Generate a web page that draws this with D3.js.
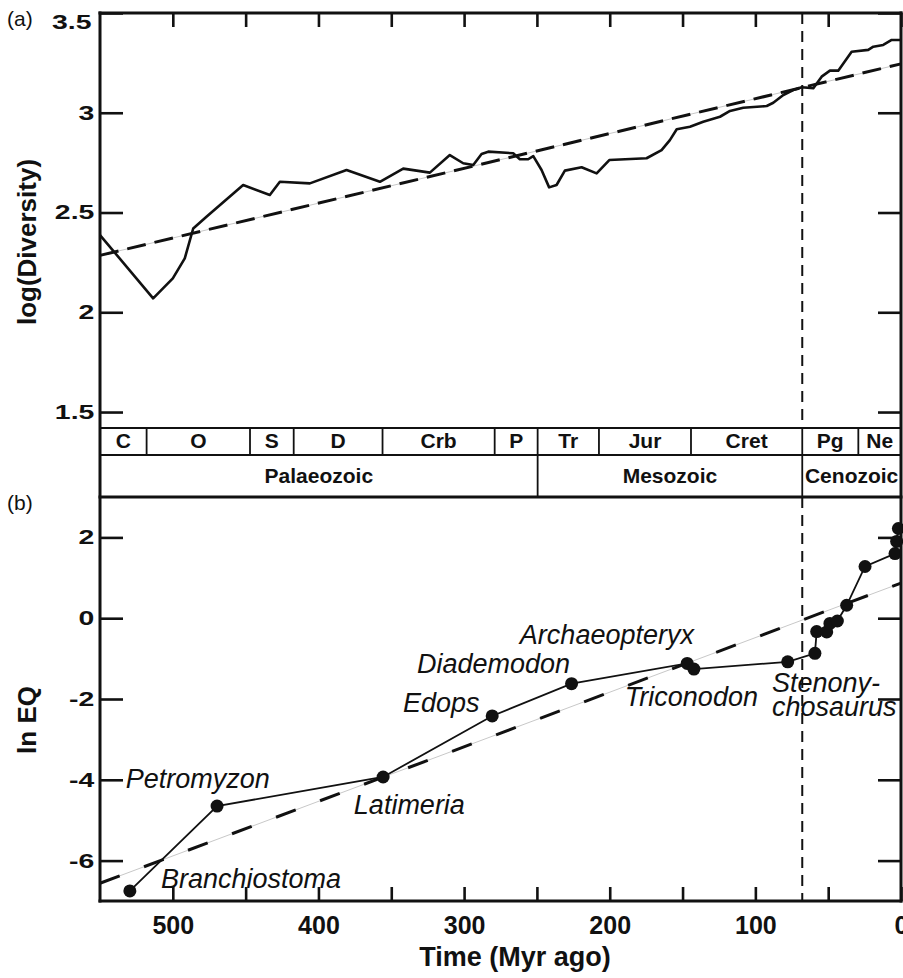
<!DOCTYPE html>
<html>
<head>
<meta charset="utf-8">
<script src="https://cdn.jsdelivr.net/npm/d3@7"></script>
<style>
    body { margin: 0; background: #fff; }
    svg { display: block; font-family: "Liberation Sans", Arial, sans-serif; }
</style>
</head>
<body>
<div id="chart"></div>
<script>
// (a) diversity curve
const divTime = [550, 513.5, 500, 491.8, 486, 476.9, 451.7, 433.4, 426.5, 405.9, 380.7, 357.8, 341.8, 323.5,
    309.8, 300.6, 293.7, 288, 283.4, 266.3, 261.7, 256, 252.5, 246.8, 241.6, 236.5, 230.8, 219.3, 209, 200.3,
    174.7, 164.4, 158.7, 154, 144.9, 135.8, 124.3, 117.4, 108.3, 92.2, 87.7, 80.8, 74, 68.2, 60.2, 54.5,
    48.8, 43.1, 33.9, 22.5, 19, 12.2, 6.4, 0];
const logDiv = [2.387, 2.07, 2.17, 2.27, 2.42, 2.479, 2.638, 2.588, 2.654, 2.646, 2.713, 2.654, 2.72, 2.70,
    2.788, 2.747, 2.738, 2.793, 2.805, 2.797, 2.767, 2.767, 2.783, 2.713, 2.626, 2.638, 2.71, 2.727, 2.696, 2.763,
    2.772, 2.813, 2.863, 2.917, 2.93, 2.955, 2.98, 3.009, 3.025, 3.034, 3.05, 3.089, 3.114, 3.128, 3.123, 3.181,
    3.211, 3.211, 3.306, 3.315, 3.331, 3.34, 3.365, 3.365];
const divFitTime = [550, 0];
const divFitValue = [2.285, 3.245];

// (b) encephalization quotient
const eqTime = [529.5, 469.6, 355.6, 280.7, 226.2, 146.8, 142.2, 77.8, 59.1, 57.9, 51, 48.8, 43.7, 37.3, 24.7, 4.1, 3, 1.8];
const lnEQ = [-6.75, -4.65, -3.93, -2.42, -1.62, -1.12, -1.26, -1.08, -0.87, -0.33, -0.34, -0.13, -0.07, 0.32, 1.28, 1.60, 1.90, 2.22];
const eqFitTime = [550, 0];
const eqFitValue = [-6.56, 0.87];

// taxon names and where their labels sit (time, ln EQ)
const taxa = ["Petromyzon", "Latimeria", "Branchiostoma", "Edops", "Diademodon", "Archaeopteryx", "Triconodon", "Stenony-|chosaurus"];
const taxaTime = [532.3, 375.7, 508.2, 342, 332.4, 261.7, 189.6, 88.6];
const taxaEQ = [-4.21, -4.85, -6.68, -2.33, -1.36, -0.64, -2.18, -1.83];

// geological time scale
const periods = ["C", "O", "S", "D", "Crb", "P", "Tr", "Jur", "Cret", "Pg", "Ne"];
const periodStart = [550, 518, 447, 417, 356, 279, 249.5, 207.4, 144.2, 67.8, 29.3];
const periodEnd = [518, 447, 417, 356, 279, 249.5, 207.4, 144.2, 67.8, 29.3, 0];
const eras = ["Palaeozoic", "Mesozoic", "Cenozoic"];
const eraStart = [550, 249.5, 67.8];
const eraEnd = [249.5, 67.8, 0];
const kpg = 67.8;

const xTicks = [500, 450, 400, 350, 300, 250, 200, 150, 100, 50, 0];
const divTicks = [1.5, 2, 2.5, 3, 3.5];
const eqTicks = [-6, -4, -2, 0, 2];

const W = 903, H = 978;
const left = 100, right = 901;
const aTop = 13, aBottom = 428, perBottom = 455, bTop = 497, bBottom = 901;

let svg = d3.select("#chart").append("svg")
    .attr("width", W)
    .attr("height", H);

let x = d3.scaleLinear().domain([550, 0]).range([left, right]);
let yA = d3.scaleLinear().domain([1.42, 3.5]).range([aBottom, aTop]);
let yB = d3.scaleLinear().domain([-7, 3]).range([bBottom, bTop]);

const ink = "#111";

// fit lines: thin grey line under a heavy dashed one
function fitLine(ts, vs, y, dash) {
    let pts = ts.map((t, i) => [x(t), y(vs[i])]);
    let line = d3.line();
    svg.append("path").attr("d", line(pts))
        .attr("fill", "none").attr("stroke", "#c8c8c8").attr("stroke-width", 1);
    svg.append("path").attr("d", line(pts))
        .attr("fill", "none").attr("stroke", ink).attr("stroke-width", 3)
        .attr("stroke-dasharray", dash);
}
fitLine(divFitTime, divFitValue, yA, "19,9");
fitLine(eqFitTime, eqFitValue, yB, "21,26");

// K/Pg boundary
svg.append("line")
    .attr("x1", x(kpg)).attr("x2", x(kpg))
    .attr("y1", aTop).attr("y2", aBottom)
    .attr("stroke", ink).attr("stroke-width", 2).attr("stroke-dasharray", "11,7");
svg.append("line")
    .attr("x1", x(kpg)).attr("x2", x(kpg))
    .attr("y1", bTop).attr("y2", bBottom)
    .attr("stroke", ink).attr("stroke-width", 2).attr("stroke-dasharray", "11,7");

// diversity curve
let divLine = d3.line()
    .x((d, i) => x(divTime[i]))
    .y(d => yA(d));
svg.append("path")
    .attr("d", divLine(logDiv))
    .attr("fill", "none")
    .attr("stroke", ink)
    .attr("stroke-width", 2.6)
    .attr("stroke-linejoin", "round");

// EQ series
let eqLine = d3.line()
    .x((d, i) => x(eqTime[i]))
    .y(d => yB(d));
svg.append("path")
    .attr("d", eqLine(lnEQ))
    .attr("fill", "none")
    .attr("stroke", ink)
    .attr("stroke-width", 1.8);
svg.selectAll(".eq-dot")
    .data(lnEQ)
    .enter().append("circle")
    .attr("class", "eq-dot")
    .attr("cx", (d, i) => x(eqTime[i]))
    .attr("cy", d => yB(d))
    .attr("r", 6.5)
    .attr("fill", ink);

// taxon labels
taxa.forEach((name, i) => {
    let t = svg.append("text")
        .attr("x", x(taxaTime[i]))
        .attr("y", yB(taxaEQ[i]))
        .attr("font-size", 27)
        .attr("font-style", "italic")
        .attr("fill", ink);
    name.split("|").forEach((part, j) => {
        t.append("tspan")
            .attr("x", x(taxaTime[i]))
            .attr("dy", j === 0 ? 0 : 24)
            .text(part);
    });
});

// time scale bar
let bar = svg.append("g").attr("font-size", 21).attr("font-weight", "bold").attr("fill", ink);
periods.forEach((p, i) => {
    bar.append("line")
        .attr("x1", x(periodEnd[i])).attr("x2", x(periodEnd[i]))
        .attr("y1", aBottom).attr("y2", perBottom)
        .attr("stroke", ink).attr("stroke-width", 1.8);
    bar.append("text")
        .attr("x", (x(periodStart[i]) + x(periodEnd[i])) / 2)
        .attr("y", perBottom - 7)
        .attr("text-anchor", "middle")
        .text(p);
});
eras.forEach((e, i) => {
    bar.append("line")
        .attr("x1", x(eraEnd[i])).attr("x2", x(eraEnd[i]))
        .attr("y1", perBottom).attr("y2", bTop)
        .attr("stroke", ink).attr("stroke-width", 1.8);
    bar.append("text")
        .attr("x", (x(eraStart[i]) + x(eraEnd[i])) / 2)
        .attr("y", bTop - 14)
        .attr("text-anchor", "middle")
        .text(e);
});
[aBottom, perBottom].forEach(yy => {
    svg.append("line")
        .attr("x1", left).attr("x2", right)
        .attr("y1", yy).attr("y2", yy)
        .attr("stroke", ink).attr("stroke-width", 2);
});

// axes
function styleAxis(g) {
    g.select(".domain").remove();
    g.selectAll(".tick line").attr("stroke", ink).attr("stroke-width", 2.6);
    g.selectAll(".tick text").attr("fill", ink);
    g.attr("font-family", null).attr("font-size", null);
}

svg.append("g")
    .attr("transform", `translate(0,${aTop})`)
    .call(d3.axisTop(x).tickValues(xTicks).tickSize(-14).tickFormat(""))
    .call(styleAxis);

let xAxisB = svg.append("g")
    .attr("transform", `translate(0,${bBottom})`)
    .call(d3.axisBottom(x).tickValues(xTicks).tickSize(-14).tickPadding(15)
        .tickFormat(d => d % 100 === 0 ? d : ""))
    .call(styleAxis);
xAxisB.selectAll(".tick text").attr("font-size", 25).attr("font-weight", "bold");

function yAxes(scale, ticks, fmt) {
    let gl = svg.append("g")
        .attr("transform", `translate(${left},0)`)
        .call(d3.axisLeft(scale).tickValues(ticks).tickSize(-23).tickPadding(4).tickFormat(fmt))
        .call(styleAxis);
    gl.selectAll(".tick text")
        .attr("font-size", 20)
        .attr("font-weight", "bold")
        .attr("transform", "scale(1.42,1)");
    svg.append("g")
        .attr("transform", `translate(${right},0)`)
        .call(d3.axisRight(scale).tickValues(ticks).tickSize(-23).tickFormat(""))
        .call(styleAxis);
    return gl;
}
let yAxisA = yAxes(yA, divTicks, d3.format("~g"));
// top label sits a little below its tick, as in the figure
yAxisA.selectAll(".tick text").filter(d => d === 3.5)
    .attr("dy", "0.75em").attr("x", -6);
yAxes(yB, eqTicks, d => d3.format("~g")(d).replace("−", "-"));

// frame
[[left, aTop, left, bBottom], [right, aTop, right, bBottom], [left, aTop, right, aTop],
 [left, bTop, right, bTop], [left, bBottom, right, bBottom]].forEach(s => {
    svg.append("line")
        .attr("x1", s[0]).attr("y1", s[1]).attr("x2", s[2]).attr("y2", s[3])
        .attr("stroke", ink).attr("stroke-width", 3)
        .attr("stroke-linecap", "square");
});

// titles
svg.append("text")
    .attr("transform", "translate(36,242) rotate(-90)")
    .attr("text-anchor", "middle")
    .attr("font-size", 26).attr("font-weight", "bold").attr("fill", ink)
    .text("log(Diversity)");
svg.append("text")
    .attr("transform", "translate(36,720) rotate(-90)")
    .attr("text-anchor", "middle")
    .attr("font-size", 26).attr("font-weight", "bold").attr("fill", ink)
    .text("ln EQ");
svg.append("text")
    .attr("x", 515).attr("y", 966)
    .attr("text-anchor", "middle")
    .attr("font-size", 27).attr("font-weight", "bold").attr("fill", ink)
    .text("Time (Myr ago)");
svg.append("text").attr("x", 7).attr("y", 26).attr("font-size", 21).attr("fill", ink).text("(a)");
svg.append("text").attr("x", 7).attr("y", 510).attr("font-size", 21).attr("fill", ink).text("(b)");
</script>
</body>
</html>
